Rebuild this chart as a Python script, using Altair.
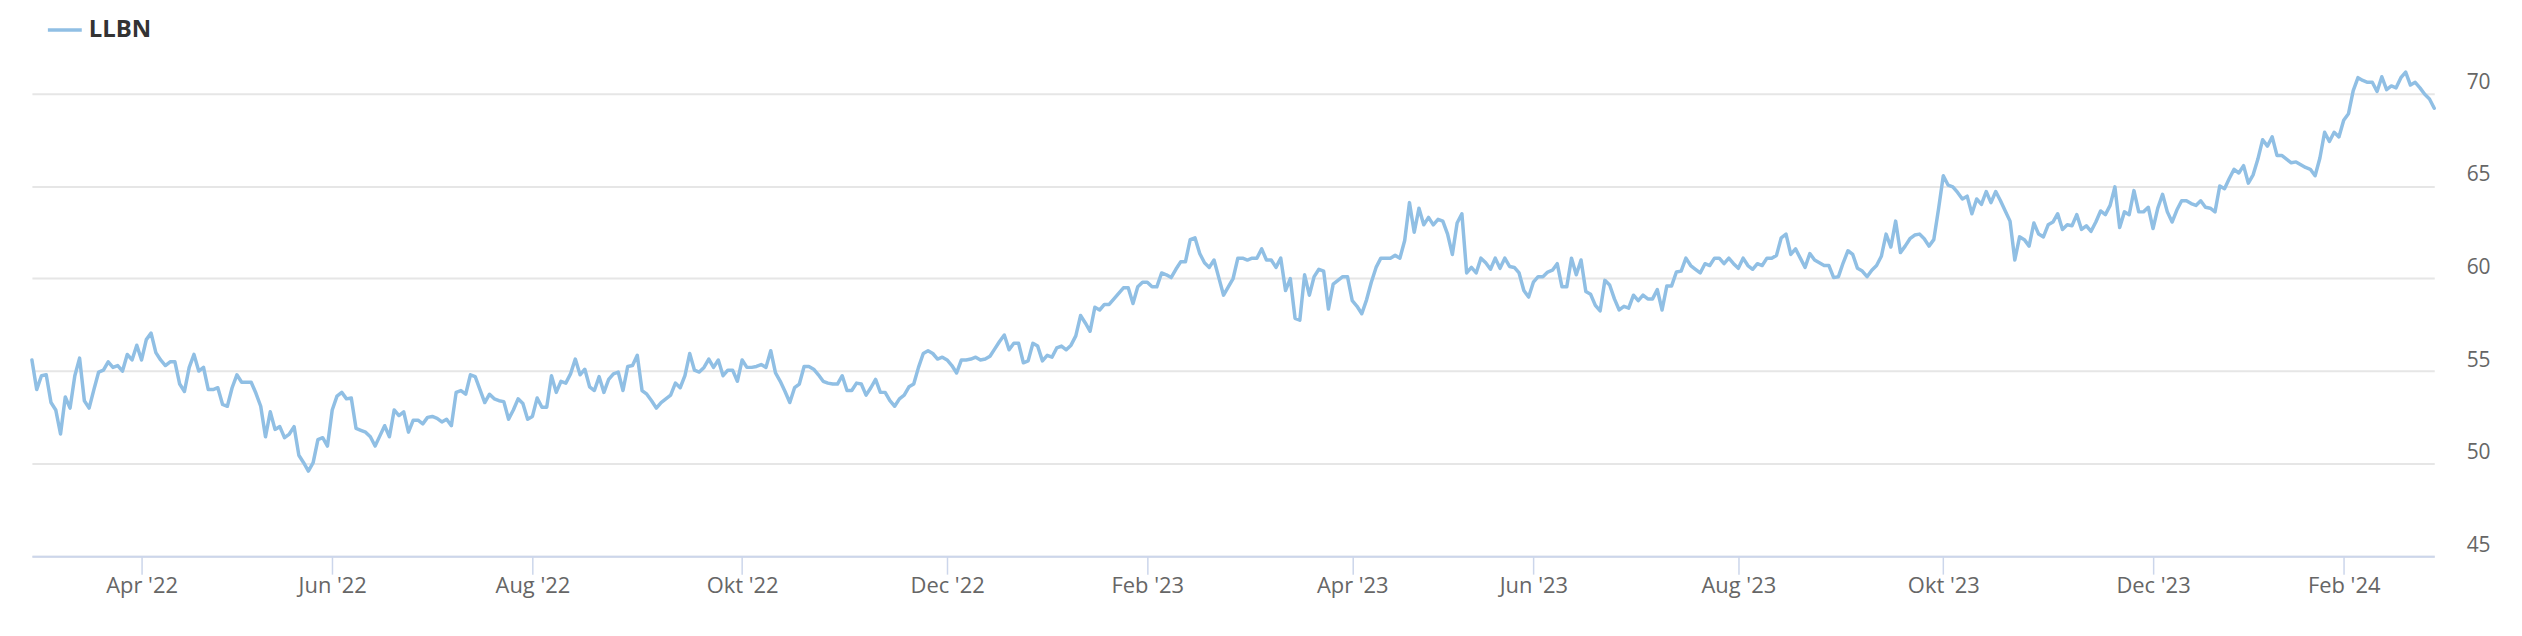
import json
import altair as alt
import pandas as pd

series_name = "LLBN"

# closing prices, one per trading day (ordinal axis like the original)
price_2022_a = [55.6, 54.0, 54.75, 54.8, 53.3, 52.9, 51.6, 53.6, 53.0, 54.75, 55.7, 53.4, 53.0, 54.0, 54.95,
                55.05, 55.5, 55.2, 55.3, 55.0, 55.9, 55.6, 56.4, 55.6, 56.7, 57.05, 56.0, 55.6, 55.3, 55.5,
                55.5, 54.3, 53.9, 55.2, 55.9, 55.0, 55.2, 54.0, 54.0, 54.1, 53.2, 53.1, 54.1, 54.8, 54.4,
                54.4, 54.4, 53.8, 53.1]
price_2022_b = [51.45, 52.8, 51.85, 52.0, 51.4, 51.6, 52.0, 50.45, 50.05, 49.6, 50.05, 51.3, 51.4, 50.95,
                52.9, 53.65, 53.85, 53.5, 53.55, 51.9, 51.8, 51.7, 51.45, 50.95, 51.5, 52.05, 51.45, 52.9,
                52.6, 52.8, 51.7, 52.35, 52.35, 52.15, 52.5, 52.55, 52.45, 52.25, 52.4, 52.05, 53.85, 53.95,
                53.75]
price_2022_c = [54.8, 54.7, 54.0, 53.3, 53.75, 53.5, 53.4, 53.35, 52.4, 52.9, 53.5, 53.25, 52.4, 52.55, 53.55,
                53.05, 53.05, 54.75, 53.85, 54.45, 54.35, 54.85, 55.65, 54.8, 55.1, 54.15, 53.95, 54.7, 53.85,
                54.55, 54.85, 54.95, 53.95, 55.25, 55.3, 55.85, 53.95, 53.75, 53.4, 53.0, 53.3, 53.5, 53.7,
                54.35, 54.1, 54.75]
price_2022_d = [55.95, 55.05, 54.95, 55.2, 55.65, 55.2, 55.6, 54.75, 55.05, 55.05, 54.45, 55.6, 55.2, 55.2,
                55.25, 55.35, 55.2, 56.1, 54.9, 54.45, 53.9, 53.3, 54.1, 54.3, 55.25, 55.25, 55.1, 54.8, 54.45,
                54.35, 54.3, 54.3, 54.75, 53.95, 53.95, 54.35, 54.3, 53.7, 54.1, 54.55, 53.85, 53.85, 53.4,
                53.1, 53.5, 53.7]
price_2022_e = [54.15, 54.3, 55.2, 55.95, 56.1, 55.95, 55.65, 55.75, 55.6, 55.3, 54.9, 55.6, 55.6, 55.65,
                55.75, 55.6, 55.65, 55.8, 56.2, 56.6, 56.95, 56.15, 56.5, 56.5, 55.45, 55.55, 56.5, 56.35,
                55.55, 55.85, 55.75, 56.25, 56.35, 56.15, 56.4, 56.9, 58.0, 57.6, 57.15, 58.45, 58.3, 58.6,
                58.6, 58.9, 59.2, 59.5]
price_2023_a = [59.5, 58.65, 59.55, 59.8, 59.8, 59.55, 59.55, 60.3, 60.2, 60.05, 60.5, 60.9, 60.9, 62.1, 62.2,
                61.35, 60.85, 60.6, 61.0, 60.05, 59.1, 59.55, 60.0, 61.1, 61.1, 61.0, 61.1, 61.1, 61.6, 61.0,
                61.0, 60.6, 61.1, 59.35, 60.0, 57.85, 57.75, 60.2, 59.1, 60.1, 60.5, 60.4, 58.35, 59.7, 59.9,
                60.1]
price_2023_b = [60.1, 58.8, 58.5, 58.1, 58.85, 59.8, 60.6, 61.1, 61.1, 61.1, 61.25, 61.1, 62.05, 64.1, 62.5,
                63.8, 62.9, 63.3, 62.9, 63.2, 63.1, 62.4, 61.3, 63.0, 63.5, 60.3, 60.6, 60.3, 61.1, 60.85,
                60.5, 61.1, 60.55, 61.1, 60.65, 60.6, 60.3, 59.35, 59.0, 59.8, 60.1, 60.1, 60.35, 60.45,
                60.8, 59.55]
price_2023_c = [59.55, 61.1, 60.2, 61.0, 59.3, 59.15, 58.55, 58.25, 59.9, 59.65, 58.9, 58.3, 58.5, 58.4, 59.1,
                58.8, 59.1, 58.9, 58.9, 59.4, 58.3, 59.6, 59.6, 60.35, 60.4, 61.1, 60.7, 60.5, 60.3, 60.8,
                60.7, 61.1, 61.1, 60.8, 61.1, 60.8, 60.55, 61.1, 60.7, 60.5, 60.8, 60.7, 61.1, 61.1, 61.25,
                62.2]
price_2023_d = [62.4, 61.3, 61.6, 61.1, 60.6, 61.35, 61.0, 60.85, 60.7, 60.7, 60.05, 60.1, 60.85, 61.5, 61.3,
                60.55, 60.4, 60.1, 60.45, 60.7, 61.2, 62.4, 61.7, 63.1, 61.4, 61.75, 62.15, 62.35, 62.4,
                62.15, 61.75, 62.1, 63.75, 65.55, 65.05, 64.95, 64.65, 64.3, 64.45, 63.5, 64.3, 64.0, 64.7,
                64.1, 64.7, 64.2]
price_2023_e = [63.65, 63.1, 61.0, 62.25, 62.1, 61.75, 63.0, 62.4, 62.25, 62.9, 63.05, 63.5, 62.65, 62.9,
                62.85, 63.45, 62.65, 62.85, 62.55, 63.05, 63.65, 63.45, 63.95, 64.95, 62.75, 63.6, 63.45,
                64.75, 63.6, 63.6, 63.85, 62.7, 63.8, 64.55, 63.6, 63.05, 63.7, 64.2, 64.2, 64.05, 63.95,
                64.2, 63.85, 63.8, 63.6]
price_2024 = [65.0, 64.85, 65.4, 65.9, 65.7, 66.1, 65.15, 65.6, 66.45, 67.5, 67.15, 67.65, 66.65, 66.65,
              66.45, 66.25, 66.3, 66.15, 66.0, 65.9, 65.55, 66.5, 67.9, 67.4, 67.9, 67.65, 68.55, 68.9, 70.15,
              70.85, 70.7, 70.6, 70.6, 70.1, 70.9, 70.2, 70.4, 70.3, 70.85, 71.15, 70.45, 70.6, 70.3, 69.95,
              69.7, 69.2]

price = (price_2022_a + price_2022_b + price_2022_c + price_2022_d + price_2022_e
         + price_2023_a + price_2023_b + price_2023_c + price_2023_d + price_2023_e + price_2024)

# trading-day index of the first session of each labelled month
tick_days = [23, 63, 105, 149, 192, 234, 277, 315, 358, 401, 445, 485]
tick_labels = ["Apr '22", "Jun '22", "Aug '22", "Okt '22", "Dec '22", "Feb '23",
               "Apr '23", "Jun '23", "Aug '23", "Okt '23", "Dec '23", "Feb '24"]
y_ticks = [45, 50, 55, 60, 65, 70]

df = pd.DataFrame({"day": list(range(len(price))), "price": price, "series": series_name})

label_expr = f"{json.dumps(tick_labels)}[indexof({json.dumps(tick_days)}, datum.value)]"

FONT = "Open Sans"
LINE_COLOR = "#90bfe4"

chart = alt.Chart(df).mark_line(strokeWidth=3.5, strokeJoin="round", strokeCap="round").encode(
    x=alt.X("day:Q",
            scale=alt.Scale(domain=[0, len(price) - 1], nice=False, zero=False),
            axis=alt.Axis(values=tick_days, labelExpr=label_expr, title=None, grid=False,
                          domainColor="#ccd6eb", domainWidth=2, tickColor="#ccd6eb", tickWidth=1.5,
                          tickSize=18, labelPadding=18, labelBaseline="alphabetic",
                          labelFont=FONT, labelFontSize=22, labelColor="#666666", zindex=1)),
    y=alt.Y("price:Q",
            scale=alt.Scale(domain=[45, 73], nice=False, zero=False),
            axis=alt.Axis(orient="right", values=y_ticks, title=None, grid=True, gridColor="#e6e6e6",
                          gridWidth=2, domain=False, ticks=False, labelPadding=32, labelAlign="left",
                          labelBaseline="alphabetic", labelOffset=-5, labelFont=FONT, labelFontSize=21,
                          labelColor="#666666")),
    color=alt.Color("series:N", scale=alt.Scale(range=[LINE_COLOR]),
                    legend=alt.Legend(orient="none", legendX=14, legendY=-27, title=None,
                                      symbolType="stroke", symbolStrokeWidth=3.5, symbolSize=1156,
                                      labelFont=FONT, labelFontSize=24, labelFontWeight="bold",
                                      labelColor="#333333", labelOffset=5, padding=0)),
).properties(
    width=2410,
    height=520,
    background="white",
    padding={"left": 24, "top": 29, "right": 80, "bottom": 50},
    autosize=alt.AutoSizeParams(type="none"),
).configure_view(stroke=None)

chart.save("out.html", embed_options={"renderer": "svg", "actions": False})
